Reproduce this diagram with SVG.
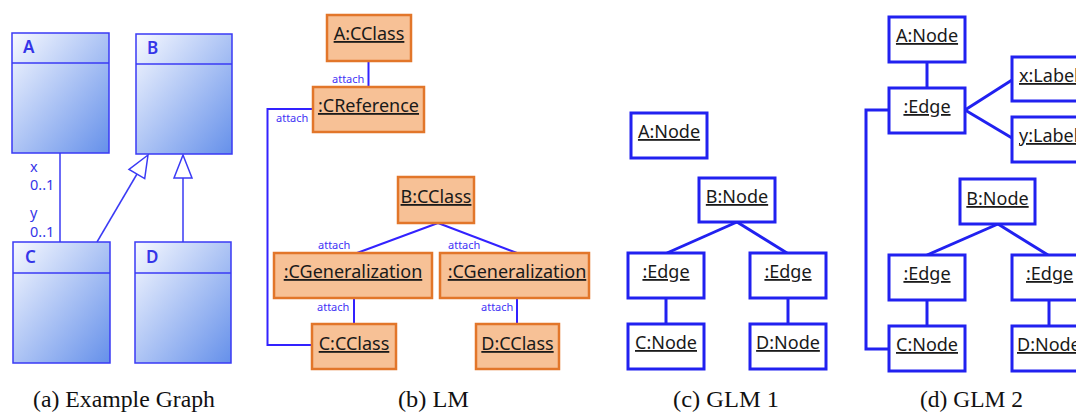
<svg xmlns="http://www.w3.org/2000/svg" width="1076" height="412" viewBox="0 0 1076 412">
<style>
.cls{stroke:#3a3af5;stroke-width:1.5;fill:url(#g)}
.sep{stroke:#3a3af5;stroke-width:1.5}
.cl{font-family:"Noto Sans","DejaVu Sans",sans-serif;font-size:17px;font-weight:600;fill:#3535e8}
.mult{font-family:"Noto Sans","DejaVu Sans",sans-serif;font-size:14.5px;fill:#3535e8}
.ob{fill:#f7c196;stroke:#e2762a;stroke-width:2.5}
.nb{fill:#fff;stroke:#2121f0;stroke-width:3}
.t{font-family:"Noto Sans","Open Sans",sans-serif;font-size:18px;fill:#1a1a1a;text-anchor:middle;text-decoration:underline}
.tl{font-family:"Noto Sans","Open Sans",sans-serif;font-size:18px;fill:#1a1a1a;text-decoration:underline}
.att{font-family:"Noto Sans","Open Sans",sans-serif;font-size:11px;fill:#3f33f5}
.ca{stroke:#3a3af5;stroke-width:1.5;fill:none}
.cb{stroke:#3322ff;stroke-width:2;fill:none}
.cc{stroke:#2121f0;stroke-width:3;fill:none}
.tri{fill:#fff;stroke:#3a3af5;stroke-width:1.5}
.cap{font-family:"Liberation Serif","Times New Roman",serif;font-size:23px;fill:#111}
</style>
<defs>
<linearGradient id="g" x1="0" y1="0" x2="1" y2="1">
<stop offset="0" stop-color="#f7f9ff"/>
<stop offset="1" stop-color="#6590ea"/>
</linearGradient>
</defs>
<g id="connectors">
<line class="ca" x1="60" y1="153" x2="60" y2="242"/>
<line class="ca" x1="97" y1="242" x2="137" y2="174"/>
<polygon class="tri" points="148,155 129,169.5 144.7,178.6"/>
<line class="ca" x1="183" y1="178" x2="183" y2="242"/>
<polygon class="tri" points="183,155 174,178 192,178"/>
<line class="cb" x1="368.5" y1="61" x2="368.5" y2="87"/>
<polyline class="cb" points="313,109 267.5,109 267.5,345 312,345"/>
<line class="cb" x1="438" y1="223" x2="357" y2="253"/>
<line class="cb" x1="438" y1="223" x2="517" y2="253"/>
<line class="cb" x1="354" y1="298" x2="354" y2="324"/>
<line class="cb" x1="517" y1="298" x2="517" y2="324"/>
<line class="cc" x1="737" y1="222" x2="667" y2="253"/>
<line class="cc" x1="737" y1="222" x2="787" y2="253"/>
<line class="cc" x1="666" y1="298" x2="666" y2="324"/>
<line class="cc" x1="788" y1="298" x2="788" y2="324"/>
<line class="cc" x1="927" y1="62" x2="927" y2="88"/>
<line class="cc" x1="965" y1="110" x2="1012" y2="80"/>
<line class="cc" x1="965" y1="110" x2="1012" y2="138"/>
<polyline class="cc" points="889,110 866,110 866,349 889,349"/>
<line class="cc" x1="998" y1="224" x2="927" y2="255"/>
<line class="cc" x1="998" y1="224" x2="1048" y2="255"/>
<line class="cc" x1="927" y1="300" x2="927" y2="326"/>
<line class="cc" x1="1049" y1="300" x2="1049" y2="326"/>
</g>
<g id="labels-a">
<text class="mult" x="30" y="172">x</text>
<text class="mult" x="30" y="190">0..1</text>
<text class="mult" x="30" y="218">y</text>
<text class="mult" x="30" y="237">0..1</text>
</g>
<g id="labels-b">
<text class="att" x="332" y="83">attach</text>
<text class="att" x="276" y="122">attach</text>
<text class="att" x="318" y="249">attach</text>
<text class="att" x="448" y="249">attach</text>
<text class="att" x="317" y="311">attach</text>
<text class="att" x="481" y="311">attach</text>
</g>
<g id="a-A"><rect class="cls" x="12" y="33" width="97" height="120"/><line class="sep" x1="12" y1="63" x2="109" y2="63"/><text class="cl" x="23" y="53">A</text></g>
<g id="a-B"><rect class="cls" x="136" y="34" width="96" height="120"/><line class="sep" x1="136" y1="64" x2="232" y2="64"/><text class="cl" x="147" y="54">B</text></g>
<g id="a-C"><rect class="cls" x="13" y="242" width="97" height="121"/><line class="sep" x1="13" y1="273" x2="110" y2="273"/><text class="cl" x="25" y="263">C</text></g>
<g id="a-D"><rect class="cls" x="135" y="242" width="96" height="121"/><line class="sep" x1="135" y1="273" x2="231" y2="273"/><text class="cl" x="146" y="263">D</text></g>
<g id="b-A"><rect class="ob" x="327" y="15" width="84" height="46"/><text class="t" x="369" y="40">A:CClass</text></g>
<g id="b-Ref"><rect class="ob" x="313" y="87" width="111" height="45"/><text class="t" x="368.5" y="112">:CReference</text></g>
<g id="b-B"><rect class="ob" x="398" y="177" width="76" height="46"/><text class="t" x="436" y="203">B:CClass</text></g>
<g id="b-G1"><rect class="ob" x="274" y="253" width="158" height="45"/><text class="t" x="353" y="278">:CGeneralization</text></g>
<g id="b-G2"><rect class="ob" x="440" y="253" width="149" height="45"/><text class="t" x="517" y="278">:CGeneralization</text></g>
<g id="b-C"><rect class="ob" x="312" y="324" width="84" height="45"/><text class="t" x="354" y="350">C:CClass</text></g>
<g id="b-D"><rect class="ob" x="476" y="324" width="83" height="45"/><text class="t" x="517.5" y="350">D:CClass</text></g>
<g id="c-A"><rect class="nb" x="631" y="113" width="76" height="45"/><text class="t" x="669" y="138">A:Node</text></g>
<g id="c-B"><rect class="nb" x="699" y="178" width="76" height="44"/><text class="t" x="737" y="203">B:Node</text></g>
<g id="c-E1"><rect class="nb" x="628" y="253" width="76" height="45"/><text class="t" x="666" y="278">:Edge</text></g>
<g id="c-E2"><rect class="nb" x="750" y="253" width="76" height="45"/><text class="t" x="788" y="278">:Edge</text></g>
<g id="c-C"><rect class="nb" x="628" y="324" width="76" height="45"/><text class="t" x="666" y="349">C:Node</text></g>
<g id="c-D"><rect class="nb" x="750" y="324" width="76" height="45"/><text class="t" x="788" y="349">D:Node</text></g>
<g id="d-A"><rect class="nb" x="889" y="17" width="76" height="45"/><text class="t" x="927" y="42">A:Node</text></g>
<g id="d-E"><rect class="nb" x="889" y="88" width="76" height="45"/><text class="t" x="927" y="113">:Edge</text></g>
<g id="d-x"><rect class="nb" x="1012" y="57" width="80" height="44"/><text class="tl" x="1019" y="82">x:Label</text></g>
<g id="d-y"><rect class="nb" x="1012" y="117" width="80" height="45"/><text class="tl" x="1019" y="142">y:Label</text></g>
<g id="d-B"><rect class="nb" x="960" y="179" width="75" height="45"/><text class="t" x="997.5" y="205">B:Node</text></g>
<g id="d-E1"><rect class="nb" x="889" y="255" width="76" height="45"/><text class="t" x="927" y="280">:Edge</text></g>
<g id="d-E2"><rect class="nb" x="1012" y="255" width="76" height="45"/><text class="tl" x="1026" y="280">:Edge</text></g>
<g id="d-C"><rect class="nb" x="889" y="326" width="76" height="45"/><text class="t" x="927" y="351">C:Node</text></g>
<g id="d-D"><rect class="nb" x="1012" y="326" width="80" height="45"/><text class="tl" x="1017" y="351">D:Node</text></g>
<g id="captions">
<text class="cap" x="33" y="407" textLength="182" lengthAdjust="spacingAndGlyphs">(a) Example Graph</text>
<text class="cap" x="398" y="407" textLength="71" lengthAdjust="spacingAndGlyphs">(b) LM</text>
<text class="cap" x="673" y="407" textLength="106" lengthAdjust="spacingAndGlyphs">(c) GLM 1</text>
<text class="cap" x="920" y="407" textLength="103" lengthAdjust="spacingAndGlyphs">(d) GLM 2</text>
</g>
</svg>
